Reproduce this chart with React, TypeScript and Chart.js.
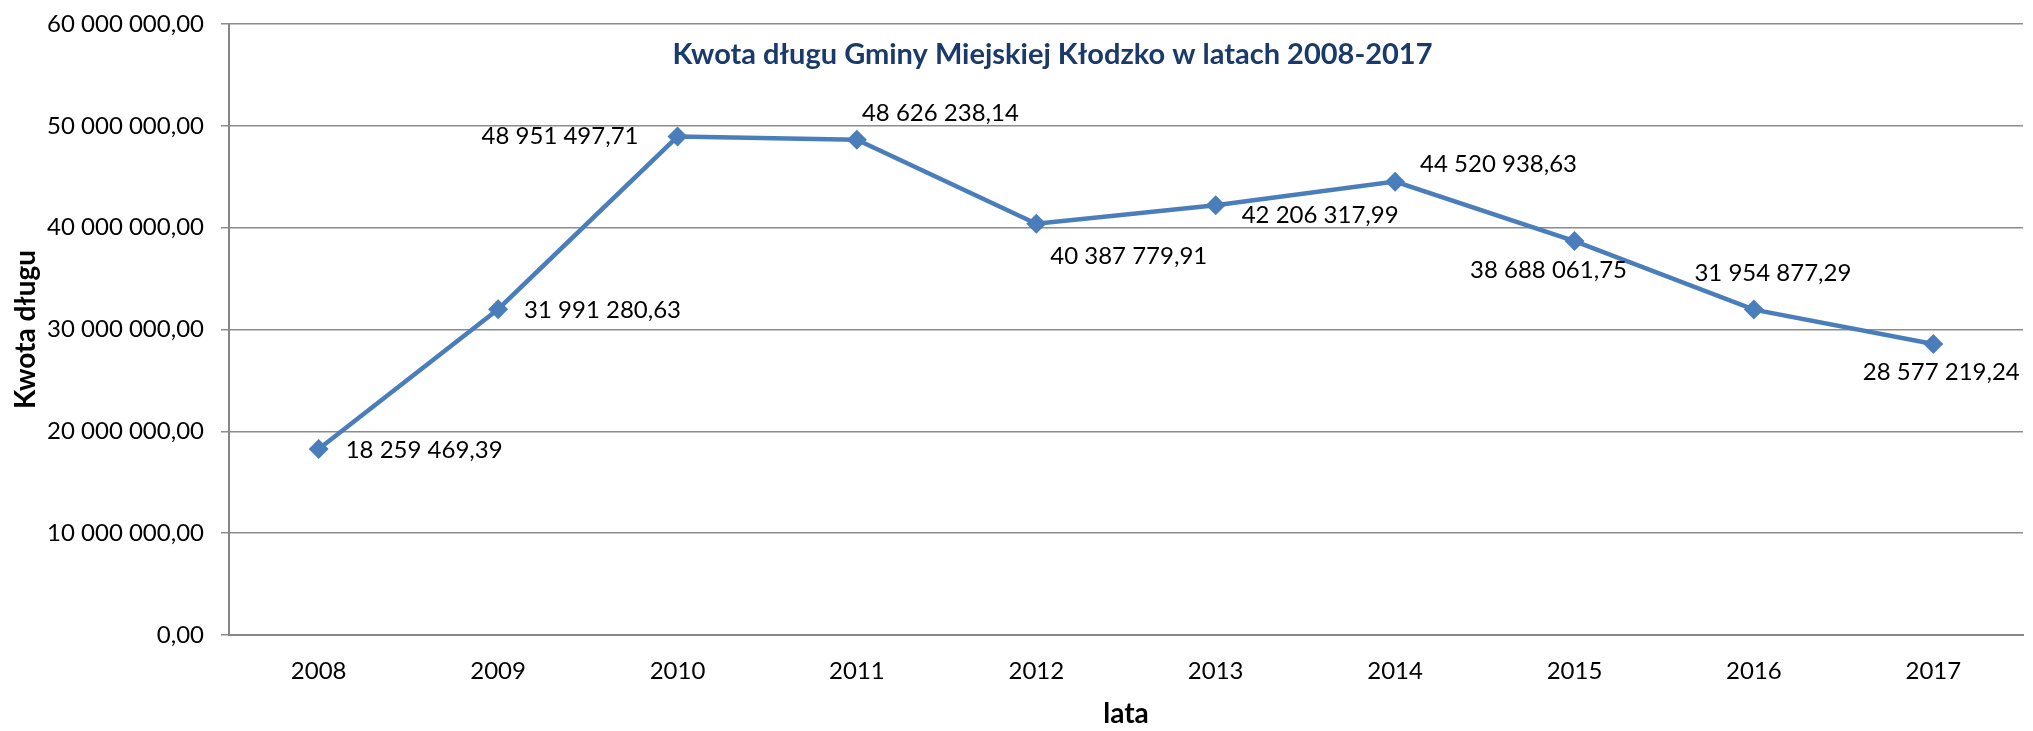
import React, { useEffect, useRef } from "react";
import { Chart, registerables } from "chart.js";

Chart.register(...registerables);

const years = ["2008", "2009", "2010", "2011", "2012", "2013", "2014", "2015", "2016", "2017"];
const debt = [
  18259469.39, 31991280.63, 48951497.71, 48626238.14, 40387779.91,
  42206317.99, 44520938.63, 38688061.75, 31954877.29, 28577219.24,
];
const chartTitle = "Kwota długu Gminy Miejskiej Kłodzko w latach 2008-2017";
const yAxisTitle = "Kwota długu";
const xAxisTitle = "lata";

// data label placement (alignment + pixel offset from the point)
const labelAlign: CanvasTextAlign[] = ["left", "left", "right", "left", "left", "left", "left", "center", "center", "center"];
const labelDx = [27, 26, -39, 5, 14, 26, 25, -26, 19, 8];
const labelDy = [1, 1, 0, -27, 33, 10, -17, 29, -36, 28];

const FONT = "Lato";
const LINE_COLOR = "#4A7EBB";
const GRID_COLOR = "#8C8C8C";

function fmt(v: number): string {
  const [i, d] = v.toFixed(2).split(".");
  return i.replace(/\B(?=(\d{3})+(?!\d))/g, " ") + "," + d;
}

const overlayPlugin = {
  id: "overlay",
  afterDatasetsDraw(chart: any) {
    const ctx = chart.ctx;
    const meta = chart.getDatasetMeta(0);
    ctx.save();
    ctx.font = `24px ${FONT}`;
    ctx.fillStyle = "#000000";
    ctx.textBaseline = "middle";
    meta.data.forEach((pt: any, i: number) => {
      ctx.textAlign = labelAlign[i];
      ctx.fillText(fmt(debt[i]), pt.x + labelDx[i], pt.y + labelDy[i]);
    });
    // chart title inside plot area
    const area = chart.chartArea;
    ctx.font = `bold 29px ${FONT}`;
    ctx.fillStyle = "#1A3A6B";
    ctx.textAlign = "center";
    ctx.fillText(chartTitle, area.left + (area.right - area.left) * 0.459, area.top + 31);
    ctx.restore();
  },
};

export default function App() {
  const ref = useRef<HTMLCanvasElement | null>(null);
  useEffect(() => {
    if (!ref.current) return;
    const chart = new Chart(ref.current, {
      type: "line",
      data: {
        labels: years,
        datasets: [
          {
            data: debt,
            borderColor: LINE_COLOR,
            backgroundColor: LINE_COLOR,
            borderWidth: 4.5,
            pointStyle: "rectRot",
            pointRadius: 10,
            pointBorderWidth: 0,
            pointBackgroundColor: LINE_COLOR,
            tension: 0,
          },
        ],
      },
      options: {
        animation: false,
        responsive: true,
        maintainAspectRatio: false,
        layout: { padding: { top: 24, right: 2, left: 0, bottom: 0 } },
        plugins: {
          legend: { display: false },
          tooltip: { enabled: false },
          title: { display: false },
        },
        scales: {
          x: {
            offset: true,
            grid: { display: false, drawTicks: false },
            border: { display: true, color: "#868686", width: 2 },
            ticks: {
              color: "#000000",
              font: { family: FONT, size: 24 },
              padding: 22,
              maxRotation: 0,
            },
            title: {
              display: true,
              text: xAxisTitle,
              color: "#000000",
              font: { family: FONT, size: 28, weight: "bold" },
              padding: { top: 0, bottom: 0 },
            },
            afterFit: (s: any) => {
              s.height = 96;
            },
          },
          y: {
            min: 0,
            max: 60000000,
            ticks: {
              stepSize: 10000000,
              color: "#000000",
              font: { family: FONT, size: 24 },
              padding: 17,
              callback: (v: any) => fmt(Number(v)),
            },
            grid: {
              color: GRID_COLOR,
              lineWidth: 1.5,
              drawTicks: true,
              tickLength: 8,
            },
            border: { display: true, color: "#868686", width: 2 },
            title: {
              display: true,
              text: yAxisTitle,
              color: "#000000",
              font: { family: FONT, size: 28, weight: "bold" },
              padding: { top: 9, bottom: 9 },
            },
            afterFit: (s: any) => {
              s.width = 229;
              s.paddingTop = 0;
              s.paddingBottom = 0;
            },
          },
        },
      },
      plugins: [overlayPlugin],
    });
    return () => chart.destroy();
  }, []);

  return (
    <div style={{ position: "fixed", left: 0, top: 0, width: 2033, height: 731, background: "#ffffff" }}>
      <canvas ref={ref} />
    </div>
  );
}
